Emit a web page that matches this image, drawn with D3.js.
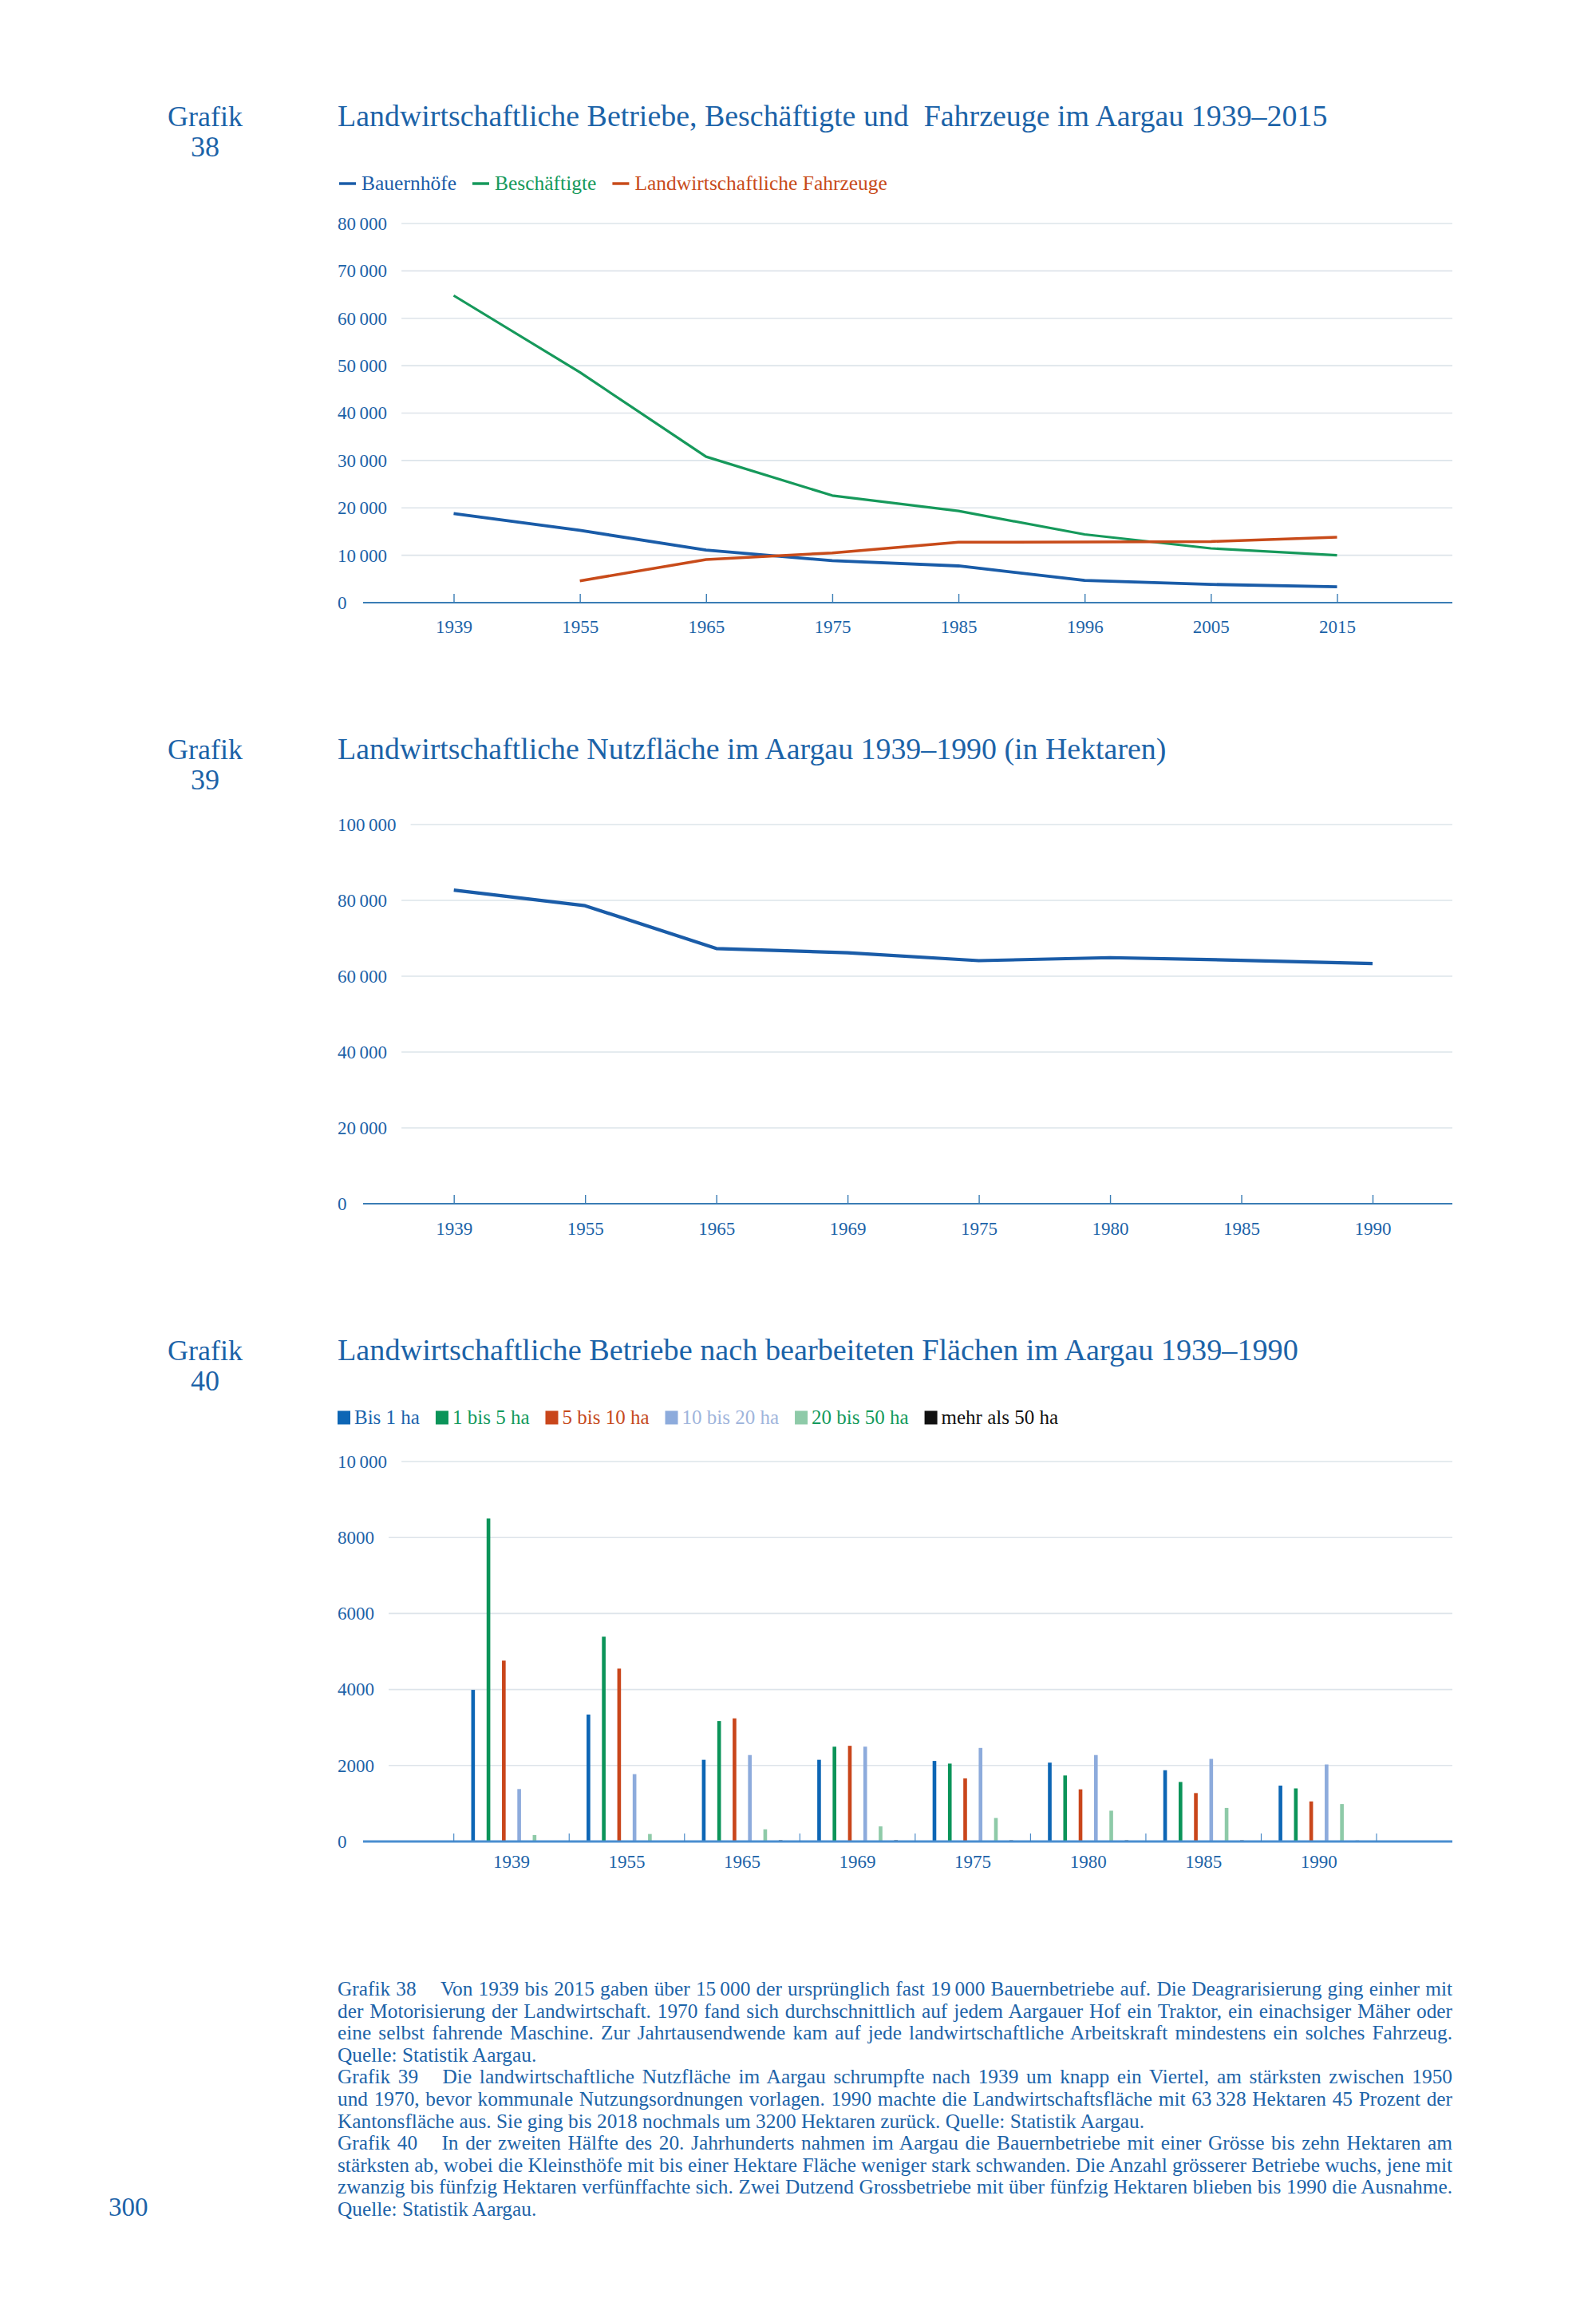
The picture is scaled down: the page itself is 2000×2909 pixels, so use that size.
<!DOCTYPE html>
<html>
<head>
<meta charset="utf-8">
<script src="https://cdn.jsdelivr.net/npm/d3@7"></script>
<style>
  body { margin: 0; background: #fff; }
  svg { display: block; font-family: "Liberation Serif", "DejaVu Serif", serif; }
</style>
</head>
<body>
<script>
// Grafik 38
const years1 = ["1939", "1955", "1965", "1975", "1985", "1996", "2005", "2015"];
const bauernhoefe = [18800, 15250, 11100, 8850, 7750, 4700, 3850, 3350];
const beschaeftigte = [64800, 48600, 30800, 22600, 19350, 14400, 11450, 10000];
const fahrzeuge = [null, 4600, 9100, 10500, 12750, 12800, 12900, 13800];
const ticks1 = [0, 10000, 20000, 30000, 40000, 50000, 60000, 70000, 80000];

// Grafik 39
const years2 = ["1939", "1955", "1965", "1969", "1975", "1980", "1985", "1990"];
const nutzflaeche = [82700, 78600, 67300, 66200, 64100, 64900, 64200, 63328];
const ticks2 = [0, 20000, 40000, 60000, 80000, 100000];

// Grafik 40
const years3 = ["1939", "1955", "1965", "1969", "1975", "1980", "1985", "1990"];
const classes = ["Bis 1 ha", "1 bis 5 ha", "5 bis 10 ha", "10 bis 20 ha", "20 bis 50 ha", "mehr als 50 ha"];
const bis1 = [3990, 3340, 2150, 2150, 2120, 2075, 1875, 1470];
const bis5 = [8500, 5390, 3170, 2495, 2050, 1737, 1566, 1397];
const bis10 = [4760, 4550, 3240, 2518, 1660, 1372, 1274, 1054];
const bis20 = [1380, 1772, 2275, 2496, 2462, 2275, 2173, 2027];
const bis50 = [170, 197, 320, 397, 618, 810, 884, 985];
const ueber50 = [0, 0, 30, 30, 28, 28, 28, 24];
const ticks3 = [0, 2000, 4000, 6000, 8000, 10000];

const notes = [
  ["Grafik 38\u2003\u2009Von 1939 bis 2015 gaben über 15\u2009000 der ursprünglich fast 19\u2009000 Bauernbetriebe auf. Die Deagrarisierung ging einher mit", true],
  ["der Motorisierung der Landwirtschaft. 1970 fand sich durchschnittlich auf jedem Aargauer Hof ein Traktor, ein einachsiger Mäher oder", true],
  ["eine selbst fahrende Maschine. Zur Jahrtausendwende kam auf jede landwirtschaftliche Arbeitskraft mindestens ein solches Fahrzeug.", true],
  ["Quelle: Statistik Aargau.", false],
  ["Grafik 39\u2003\u2009Die landwirtschaftliche Nutzfläche im Aargau schrumpfte nach 1939 um knapp ein Viertel, am stärksten zwischen 1950", true],
  ["und 1970, bevor kommunale Nutzungsordnungen vorlagen. 1990 machte die Landwirtschaftsfläche mit 63\u2009328 Hektaren 45 Prozent der", true],
  ["Kantonsfläche aus. Sie ging bis 2018 nochmals um 3200 Hektaren zurück. Quelle: Statistik Aargau.", false],
  ["Grafik 40\u2003\u2009In der zweiten Hälfte des 20. Jahrhunderts nahmen im Aargau die Bauernbetriebe mit einer Grösse bis zehn Hektaren am", true],
  ["stärksten ab, wobei die Kleinsthöfe mit bis einer Hektare Fläche weniger stark schwanden. Die Anzahl grösserer Betriebe wuchs, jene mit", true],
  ["zwanzig bis fünfzig Hektaren verfünffachte sich. Zwei Dutzend Grossbetriebe mit über fünfzig Hektaren blieben bis 1990 die Ausnahme.", true],
  ["Quelle: Statistik Aargau.", false]
];

const textBlue = "#1c63a8";
const gridColor = "#dde4ea";
const axisColor = "#3a7db5";
const left = 423, axisStart = 455, right = 1820;

const svg = d3.select("body").append("svg")
  .attr("width", 2000)
  .attr("height", 2909);

function fmtBig(d) {
  return d >= 10000 ? d3.format(",")(d).replace(/,/g, "\u2009") : String(d);
}

// scale the font so that the text takes the given width
function fitFont(t, size, width) {
  t.attr("font-size", size);
  const w = t.node().getComputedTextLength();
  t.attr("font-size", size * width / w);
}

// Grafik number + title
function header(num, title, baseline, titleWidth) {
  svg.append("text").attr("x", 257).attr("y", baseline)
    .attr("text-anchor", "middle").attr("font-size", 36).attr("fill", textBlue)
    .text("Grafik");
  svg.append("text").attr("x", 257).attr("y", baseline + 38)
    .attr("text-anchor", "middle").attr("font-size", 36).attr("fill", textBlue)
    .text(num);
  const t = svg.append("text").attr("x", left).attr("y", baseline)
    .attr("fill", textBlue)
    .text(title);
  fitFont(t, 34, titleWidth);
}

// y labels left aligned, grid lines start after the label
function yAxis(y, ticks) {
  const g = svg.append("g").attr("transform", `translate(${left},0)`)
    .call(d3.axisLeft(y).tickValues(ticks).tickSize(0).tickFormat(fmtBig));
  g.select(".domain").remove();
  g.selectAll("text")
    .attr("x", 0).attr("text-anchor", "start")
    .attr("font-family", "Liberation Serif").attr("font-size", 23).attr("fill", textBlue);
  g.selectAll(".tick").each(function (d) {
    if (d === 0) return;
    const w = d3.select(this).select("text").node().getComputedTextLength();
    svg.insert("line", ":first-child")
      .attr("x1", left + w + 18).attr("x2", right)
      .attr("y1", y(d)).attr("y2", y(d))
      .attr("stroke", gridColor).attr("stroke-width", 1.6);
  });
}

// ---------- Grafik 38 ----------
header("38", "Landwirtschaftliche Betriebe, Beschäftigte und\u00A0 Fahrzeuge im Aargau 1939–2015", 158, 1241);

const x1 = d3.scalePoint().domain(years1).range([568.5, 1675.5]);
const y1 = d3.scaleLinear().domain([0, 80000]).range([755, 280]);
yAxis(y1, ticks1);

svg.append("line").attr("x1", axisStart).attr("x2", right)
  .attr("y1", y1(0)).attr("y2", y1(0))
  .attr("stroke", axisColor).attr("stroke-width", 1.8);

const xa1 = svg.append("g").attr("transform", `translate(0,${y1(0)})`)
  .call(d3.axisBottom(x1).tickSize(-11).tickPadding(22));
xa1.select(".domain").remove();
xa1.selectAll("line").attr("stroke", axisColor).attr("stroke-width", 1.4);
xa1.selectAll("text").attr("font-family", "Liberation Serif").attr("font-size", 23).attr("fill", textBlue);

const series1 = [
  { name: "Bauernhöfe", values: bauernhoefe, color: "#1a5ca8", width: 3.8 },
  { name: "Beschäftigte", values: beschaeftigte, color: "#16995b", width: 3.2 },
  { name: "Landwirtschaftliche Fahrzeuge", values: fahrzeuge, color: "#c84b1a", width: 3.5 }
];

const line1 = d3.line()
  .defined(d => d.v !== null)
  .x(d => x1(d.year))
  .y(d => y1(d.v));

series1.forEach(s => {
  svg.append("path")
    .datum(years1.map((yr, i) => ({ year: yr, v: s.values[i] })))
    .attr("d", line1)
    .attr("fill", "none")
    .attr("stroke", s.color)
    .attr("stroke-width", s.width)
    .attr("stroke-linejoin", "round");
});

// legend 38
let lx = 425;
series1.forEach(s => {
  svg.append("line").attr("x1", lx).attr("x2", lx + 21).attr("y1", 230).attr("y2", 230)
    .attr("stroke", s.color).attr("stroke-width", 3.5);
  const t = svg.append("text").attr("x", lx + 28).attr("y", 237.5)
    .attr("font-size", 25.5).attr("fill", s.color).text(s.name);
  lx += 28 + t.node().getComputedTextLength() + 20;
});

// ---------- Grafik 39 ----------
header("39", "Landwirtschaftliche Nutzfläche im Aargau 1939–1990 (in Hektaren)", 951, 1039);

const x2 = d3.scalePoint().domain(years2).range([568.7, 1720]);
const y2 = d3.scaleLinear().domain([0, 100000]).range([1508, 1033]);
yAxis(y2, ticks2);

svg.append("line").attr("x1", axisStart).attr("x2", right)
  .attr("y1", y2(0)).attr("y2", y2(0))
  .attr("stroke", axisColor).attr("stroke-width", 1.8);

const xa2 = svg.append("g").attr("transform", `translate(0,${y2(0)})`)
  .call(d3.axisBottom(x2).tickSize(-11).tickPadding(23));
xa2.select(".domain").remove();
xa2.selectAll("line").attr("stroke", axisColor).attr("stroke-width", 1.4);
xa2.selectAll("text").attr("font-family", "Liberation Serif").attr("font-size", 23).attr("fill", textBlue);

svg.append("path")
  .datum(years2.map((yr, i) => ({ year: yr, v: nutzflaeche[i] })))
  .attr("d", d3.line().x(d => x2(d.year)).y(d => y2(d.v)))
  .attr("fill", "none")
  .attr("stroke", "#1a5ca8")
  .attr("stroke-width", 4.2)
  .attr("stroke-linejoin", "round");

// ---------- Grafik 40 ----------
header("40", "Landwirtschaftliche Betriebe nach bearbeiteten Flächen im Aargau 1939–1990", 1704, 1204);

const barColors = ["#0d66b5", "#0b9459", "#c9461b", "#8dabdc", "#8ecaa8", "#111111"];
const legendColors = ["#1a64ad", "#139a5c", "#c64a1c", "#9fb5dc", "#139a5c", "#111111"];
const barSeries = [bis1, bis5, bis10, bis20, bis50, ueber50];

const x3 = d3.scaleBand().domain(years3).range([568.7, 1725]);
const xs = d3.scaleBand().domain(classes).range([14.5, x3.bandwidth() - 14.5])
  .paddingInner(0.76).paddingOuter(0.38);
const y3 = d3.scaleLinear().domain([0, 10000]).range([2307, 1831]);
yAxis(y3, ticks3);

// legend 40
let sx = 423;
classes.forEach((c, i) => {
  svg.append("rect").attr("x", sx).attr("y", 1767.5).attr("width", 16).attr("height", 17)
    .attr("fill", barColors[i]);
  const t = svg.append("text").attr("x", sx + 21).attr("y", 1784)
    .attr("font-size", 25).attr("fill", legendColors[i]).text(c);
  sx += 21 + t.node().getComputedTextLength() + 20;
});

const groups = svg.append("g").selectAll("g")
  .data(years3)
  .join("g")
  .attr("transform", d => `translate(${x3(d)},0)`);

groups.selectAll("rect")
  .data((yr, i) => classes.map((c, j) => ({ cls: c, v: barSeries[j][i], color: barColors[j] })))
  .join("rect")
  .attr("x", d => xs(d.cls))
  .attr("width", xs.bandwidth())
  .attr("y", d => y3(d.v))
  .attr("height", d => y3(0) - y3(d.v))
  .attr("fill", d => d.color);

svg.append("line").attr("x1", axisStart).attr("x2", right)
  .attr("y1", y3(0)).attr("y2", y3(0))
  .attr("stroke", "#4a8ed0").attr("stroke-width", 3);

// small ticks on the band edges
const edges = years3.map(d => x3(d)).concat([x3.range()[1]]);
svg.append("g").selectAll("line")
  .data(edges)
  .join("line")
  .attr("x1", d => d).attr("x2", d => d)
  .attr("y1", y3(0) - 10).attr("y2", y3(0))
  .attr("stroke", "#3f82c4").attr("stroke-width", 1.1);

const xa3 = svg.append("g").attr("transform", `translate(0,${y3(0)})`)
  .call(d3.axisBottom(x3).tickSize(0).tickPadding(17));
xa3.select(".domain").remove();
xa3.selectAll("text").attr("font-family", "Liberation Serif").attr("font-size", 23).attr("fill", textBlue);

// ---------- notes ----------
const noteTop = 2500, lead = 27.6, noteWidth = right - left;
const noteTexts = notes.map((n, i) => svg.append("text")
  .attr("x", left).attr("y", noteTop + i * lead)
  .attr("font-size", 22.5).attr("fill", textBlue)
  .text(n[0]));

// pick the size so that the widest full line just fits, then justify
const widest = d3.max(notes.map((n, i) => n[1] ? noteTexts[i].node().getComputedTextLength() : 0));
const noteSize = 22.5 * noteWidth / widest;
noteTexts.forEach((t, i) => {
  t.attr("font-size", noteSize);
  if (notes[i][1]) {
    const w = t.node().getComputedTextLength();
    const spaces = (notes[i][0].match(/ /g) || []).length;
    t.attr("word-spacing", (noteWidth - w) / spaces);
    t.attr("textLength", noteWidth).attr("lengthAdjust", "spacing");
  }
});

svg.append("text").attr("x", 136).attr("y", noteTop + 10 * lead)
  .attr("font-size", 33).attr("fill", textBlue).text("300");
</script>
</body>
</html>
